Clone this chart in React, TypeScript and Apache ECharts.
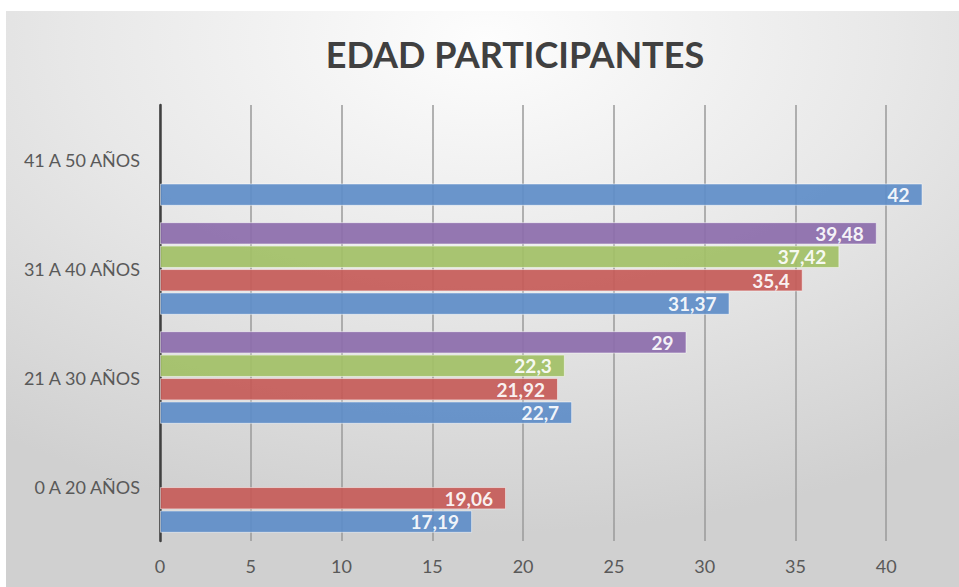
import React, { useEffect, useRef } from "react";
import * as echarts from "echarts";

const categories = ["0 A 20 AÑOS", "21 A 30 AÑOS", "31 A 40 AÑOS", "41 A 50 AÑOS"];
const seriesBlue = [17.19, 22.7, 31.37, 42];
const seriesRed = [19.06, 21.92, 35.4, null];
const seriesGreen = [null, 22.3, 37.42, null];
const seriesPurple = [null, 29, 39.48, null];
const xTicks = [0, 5, 10, 15, 20, 25, 30, 35, 40, 45];

const FONT = "Lato, 'Open Sans', sans-serif";

export default function App() {
  const ref = useRef<HTMLDivElement>(null);
  useEffect(() => {
    if (!ref.current) return;
    const chart = echarts.init(ref.current, null, { renderer: "svg" });
    const mk = (name: string, data: (number | null)[], color: string) => ({
      name,
      type: "bar",
      data,
      barGap: "5%",
      barCategoryGap: "15%",
      itemStyle: {
        color,
        opacity: 0.92,
        borderColor: "rgba(255,255,255,0.55)",
        borderWidth: 1,
      },
      label: {
        show: true,
        position: "insideRight",
        distance: 13,
        color: "#ffffff",
        fontFamily: FONT,
        fontWeight: "bold",
        fontSize: 19,
        formatter: (p: any) => String(p.value).replace(".", ","),
      },
    });
    chart.setOption({
      animation: false,
      backgroundColor: "#ffffff",
      graphic: [
        {
          type: "rect",
          z: -100,
          silent: true,
          shape: { x: 6, y: 11, width: 960, height: 580 },
          style: {
            fill: new echarts.graphic.RadialGradient(0.5, 0.05, 0.85, [
              { offset: 0, color: "#fdfdfd" },
              { offset: 0.5, color: "#e8e8e8" },
              { offset: 1, color: "#d0d0d0" },
            ]),
          },
        },
      ],
      title: {
        text: "EDAD PARTICIPANTES",
        left: 510,
        textAlign: "center",
        top: 31,
        textStyle: {
          fontFamily: FONT,
          fontWeight: "bold",
          fontSize: 36,
          color: "#404040",
        },
      },
      grid: {
        left: 160,
        top: 105,
        width: 817,
        height: 436,
        containLabel: false,
        outerBoundsMode: "none",
      },
      xAxis: {
        type: "value",
        min: xTicks[0],
        max: xTicks[xTicks.length - 1],
        interval: 5,
        axisLine: { show: false },
        axisTick: { show: false },
        axisLabel: {
          margin: 16,
          color: "#595959",
          fontFamily: FONT,
          fontSize: 18,
          showMaxLabel: false,
        },
        splitLine: { show: true, lineStyle: { color: "#9a9a9a", width: 1.5 } },
      },
      yAxis: {
        type: "category",
        data: categories,
        axisLine: { show: true, lineStyle: { color: "#404040", width: 2.5 } },
        axisTick: { show: false },
        axisLabel: {
          margin: 20,
          color: "#595959",
          fontFamily: FONT,
          fontSize: 18,
        },
      },
      series: [
        mk("Serie 4", seriesPurple, "#8c6dab"),
        mk("Serie 3", seriesGreen, "#a2c066"),
        mk("Serie 2", seriesRed, "#c65b58"),
        mk("Serie 1", seriesBlue, "#5e8dc8"),
      ],
    });
    return () => chart.dispose();
  }, []);
  return (
    <div
      ref={ref}
      style={{ position: "fixed", left: 0, top: 0, width: 959, height: 587 }}
    />
  );
}
